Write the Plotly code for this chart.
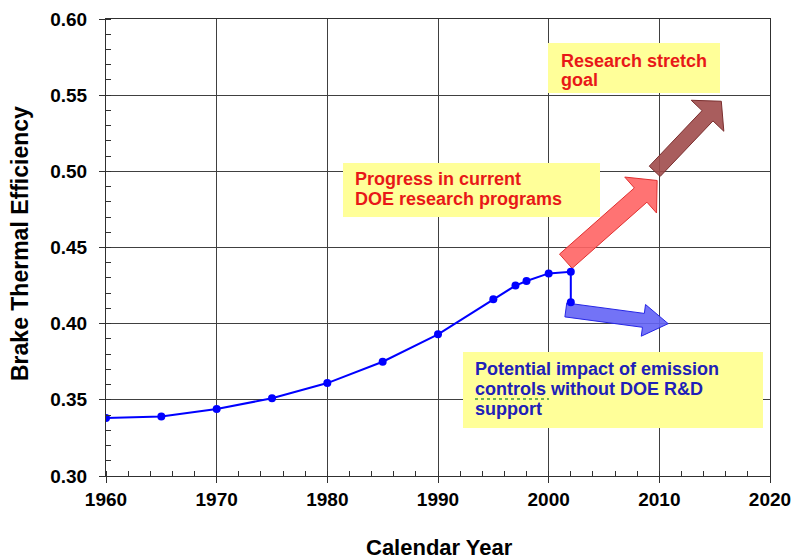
import plotly.graph_objects as go
import math

# ---------------- data ----------------
years = [1960, 1965, 1970, 1975, 1980, 1985, 1990, 1995, 1997, 1998, 2000, 2002, 2002]
efficiency = [0.338, 0.339, 0.344, 0.351, 0.361, 0.375, 0.393, 0.416, 0.425, 0.428, 0.433, 0.434, 0.414]

x_ticks = [1960, 1970, 1980, 1990, 2000, 2010, 2020]
y_ticks = [0.30, 0.35, 0.40, 0.45, 0.50, 0.55, 0.60]

x_title = "Calendar Year"
y_title = "Brake Thermal Efficiency"

# arrows: progress (red), stretch goal (brown), emission impact (blue)
arrow_start_year = [2001.55, 2009.58, 2001.55]
arrow_start_bte = [0.441, 0.500, 0.409]
arrow_end_year = [2009.8, 2015.6, 2010.8]
arrow_end_bte = [0.494, 0.546, 0.400]

callout_lines = [
    ["Research stretch", "goal"],
    ["Progress in current", "DOE research programs"],
    ["Potential impact of emission", "controls without DOE R&D", "support"],
]

# ---------------- layout geometry (page pixels) ----------------
W, H = 795, 559
L, R, T, B = 106, 770, 19, 476  # plot area
X0, X1 = 1960, 2020
Y0, Y1 = 0.30, 0.60


def to_px(x, y):
    return L + (x - X0) / (X1 - X0) * (R - L), B - (y - Y0) / (Y1 - Y0) * (B - T)


def to_data(px, py):
    return X0 + (px - L) / (R - L) * (X1 - X0), Y0 + (B - py) / (B - T) * (Y1 - Y0)


def to_paper(px, py):
    return (px - L) / (R - L), (B - py) / (B - T)


def arrow_path(x0, y0, x1, y1, w, hw, hl):
    p0x, p0y = to_px(x0, y0)
    p1x, p1y = to_px(x1, y1)
    dx, dy = p1x - p0x, p1y - p0y
    ln = math.hypot(dx, dy)
    ux, uy = dx / ln, dy / ln
    nx, ny = -uy, ux
    neckx, necky = p1x - ux * hl, p1y - uy * hl
    pts = [
        (p0x + nx * w / 2, p0y + ny * w / 2),
        (neckx + nx * w / 2, necky + ny * w / 2),
        (neckx + nx * hw / 2, necky + ny * hw / 2),
        (p1x, p1y),
        (neckx - nx * hw / 2, necky - ny * hw / 2),
        (neckx - nx * w / 2, necky - ny * w / 2),
        (p0x - nx * w / 2, p0y - ny * w / 2),
    ]
    d = [to_data(px, py) for px, py in pts]
    return "M " + " L ".join(f"{a:.4f},{b:.5f}" for a, b in d) + " Z"


font_family = "Liberation Sans, Arial, sans-serif"

fig = go.Figure()

fig.add_trace(go.Scatter(
    x=years, y=efficiency, mode="lines+markers",
    line=dict(color="#0000FF", width=2),
    marker=dict(color="#0000FF", size=8),
    showlegend=False, hoverinfo="skip",
))

shapes = []

# yellow callout boxes (pixel rectangles -> data)
box_px = [(548, 43, 720, 93), (343, 163, 600, 217), (463, 352, 763, 428)]
for (a, b, c, d) in box_px:
    xa, ya = to_data(a, b)
    xc, yc = to_data(c, d)
    shapes.append(dict(type="rect", xref="x", yref="y", x0=xa, y0=yc, x1=xc, y1=ya,
                       fillcolor="#FFFF99", line=dict(width=0), layer="between"))

# arrows
arrow_styles = [
    dict(fill="rgba(255,100,100,0.9)", line="#E03030", w=19, hw=48, hl=22),
    dict(fill="rgba(160,75,75,0.9)", line="#7A2E2E", w=15, hw=45, hl=20),
    dict(fill="rgba(100,100,245,0.9)", line="#2626E6", w=14, hw=32, hl=25),
]
for i, st in enumerate(arrow_styles):
    shapes.append(dict(
        type="path", xref="x", yref="y",
        path=arrow_path(arrow_start_year[i], arrow_start_bte[i], arrow_end_year[i], arrow_end_bte[i],
                        st["w"], st["hw"], st["hl"]),
        fillcolor=st["fill"], line=dict(color=st["line"], width=1), layer="between"))

# green dotted spell-check underline under "controls"
ux0, uy0 = to_data(475, 399)
ux1, _ = to_data(549, 399)
shapes.append(dict(type="line", xref="x", yref="y", x0=ux0, x1=ux1, y0=uy0, y1=uy0,
                   line=dict(color="#3C9A3C", width=1.5, dash="dot"), layer="above"))

# callout text lines
text_left_px = [561, 355, 475]
first_baseline_px = [67, 185, 375]
line_gap_px = [19, 20, 20]
text_colors = ["#E81818", "#E81818", "#2020B8"]
fs = 18
annotations = []
for i, lines in enumerate(callout_lines):
    for j, s in enumerate(lines):
        base = first_baseline_px[i] + j * line_gap_px[i]
        ax, ay = to_data(text_left_px[i] - 2, base - 0.33 * fs)
        annotations.append(dict(x=ax, y=ay, xref="x", yref="y", text=s, showarrow=False,
                                xanchor="left", yanchor="middle",
                                font=dict(family=font_family, size=fs, color=text_colors[i], weight="bold")))

# axis titles (placed from page-pixel positions)
tx, ty = to_paper(439, 547)
annotations.append(dict(x=tx, y=ty, xref="paper", yref="paper", text=x_title,
                        showarrow=False, xanchor="center", yanchor="middle",
                        font=dict(family=font_family, size=22, color="black", weight="bold")))
tx, ty = to_paper(20, 244)
annotations.append(dict(x=tx, y=ty, xref="paper", yref="paper", text=y_title,
                        showarrow=False, xanchor="center", yanchor="middle", textangle=-90,
                        font=dict(family=font_family, size=23, color="black", weight="bold")))

fig.update_layout(
    width=W, height=H,
    margin=dict(l=L, r=W - R, t=T, b=H - B, pad=0, autoexpand=False),
    paper_bgcolor="white", plot_bgcolor="white",
    shapes=shapes, annotations=annotations,
    font=dict(family=font_family, color="black"),
)

fig.update_xaxes(
    range=[X0, X1], tickvals=x_ticks, ticktext=[str(v) for v in x_ticks],
    showgrid=True, gridcolor="#404040", gridwidth=1,
    showline=True, linecolor="#303030", linewidth=1, mirror=True,
    ticks="outside", ticklen=6, tickcolor="#303030",
    minor=dict(dtick=2, ticks="inside", ticklen=5, tickcolor="#303030", showgrid=False),
    tickfont=dict(family=font_family, size=19, color="black", weight="bold"),
    automargin=False, zeroline=False,
)
fig.update_yaxes(
    range=[Y0, Y1], tickvals=y_ticks, ticktext=[f"{v:.2f}" for v in y_ticks],
    showgrid=True, gridcolor="#404040", gridwidth=1,
    showline=True, linecolor="#303030", linewidth=1, mirror=True,
    ticks="outside", ticklen=6, tickcolor="#303030", ticklabelstandoff=8,
    minor=dict(dtick=0.01, ticks="inside", ticklen=5, tickcolor="#303030", showgrid=False),
    tickfont=dict(family=font_family, size=19, color="black", weight="bold"),
    automargin=False, zeroline=False,
)

# remove the default 8px page margin so the figure fills the 795x559 window exactly
fig.write_html("out.html", config={"displayModeBar": False},
               post_script="document.body.style.margin='0px';")
